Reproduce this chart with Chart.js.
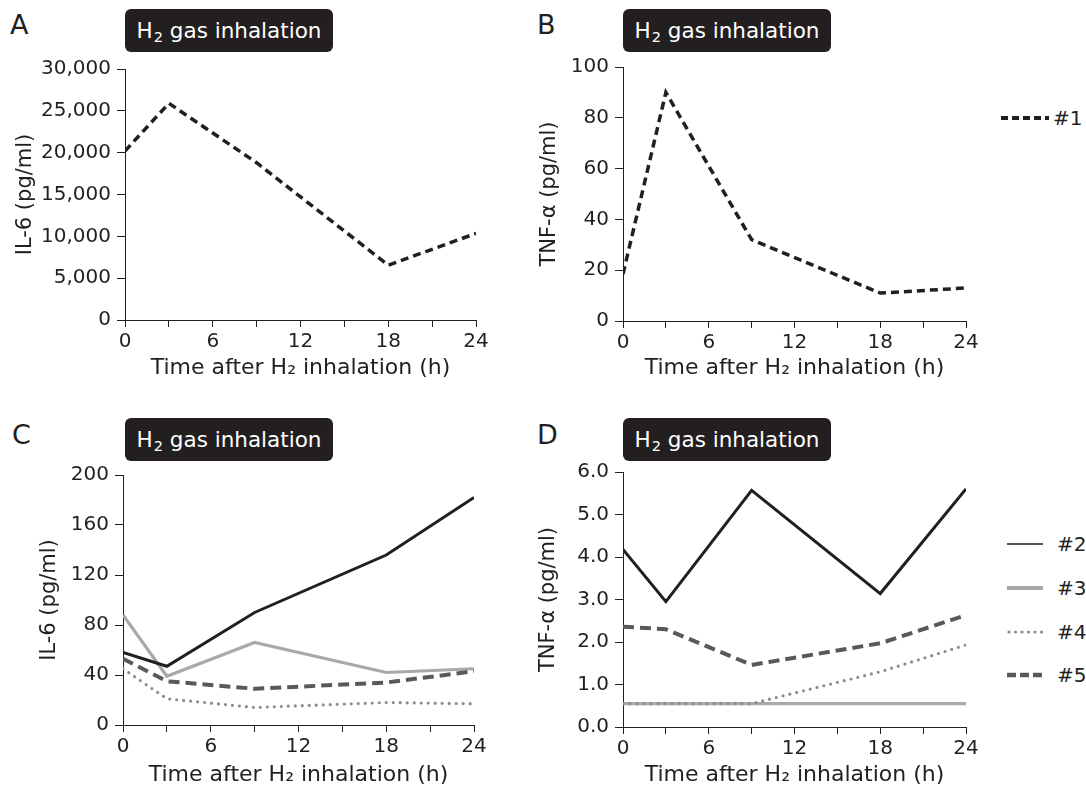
<!DOCTYPE html>
<html><head><meta charset="utf-8">
<script src="https://cdn.jsdelivr.net/npm/chart.js@4.4.1/dist/chart.umd.min.js"></script>
<style>
html,body{margin:0;padding:0;background:#fff;}
body{width:1086px;height:788px;position:relative;overflow:hidden;font-family:"DejaVu Sans",sans-serif;color:#231f20;}
canvas{position:absolute;}
.letter{position:absolute;font-size:27px;line-height:1;}
.tbox{position:absolute;width:208px;height:43px;background:#231f20;color:#fff;border-radius:6px;display:flex;align-items:center;justify-content:center;font-size:21.5px;}
.tbox .sub{font-size:0.68em;position:relative;top:0.3em;margin-left:1px;}
.legline{position:absolute;}
.legtext{position:absolute;font-size:20px;line-height:24px;}
</style></head>
<body>
<div class="letter" style="left:10px;top:11px">A</div>
<div class="letter" style="left:537px;top:11px">B</div>
<div class="letter" style="left:12px;top:421px">C</div>
<div class="letter" style="left:537px;top:421px">D</div>
<div class="tbox" style="left:125px;top:9px"><span>H<span class="sub">2</span> gas inhalation</span></div>
<div class="tbox" style="left:623px;top:9px"><span>H<span class="sub">2</span> gas inhalation</span></div>
<div class="tbox" style="left:125px;top:418px"><span>H<span class="sub">2</span> gas inhalation</span></div>
<div class="tbox" style="left:623px;top:418px"><span>H<span class="sub">2</span> gas inhalation</span></div>
<canvas id="cA" width="500" height="390" style="left:0;top:0"></canvas>
<canvas id="cB" width="500" height="390" style="left:500px;top:0"></canvas>
<canvas id="cC" width="500" height="388" style="left:0;top:400px"></canvas>
<canvas id="cD" width="500" height="388" style="left:500px;top:400px"></canvas>
<div id="legends"></div>
<script>
// ---- data ----
const hours = [0, 3, 9, 18, 24];
const xTickLabels = [0, 6, 12, 18, 24];
const seriesNames = ['#1', '#2', '#3', '#4', '#5'];
// Panel A: IL-6 (pg/ml), patient #1
const il6_p1 = [20200, 25900, 18800, 6550, 10350];
// Panel B: TNF-alpha (pg/ml), patient #1
const tnf_p1 = [18.5, 90, 32, 11, 13];
// Panel C: IL-6 (pg/ml), patients #2-#5
const il6_p2 = [58, 47, 90, 136, 182];
const il6_p3 = [88, 39, 66, 42, 45];
const il6_p4 = [45, 21, 14, 18, 17];
const il6_p5 = [53, 35, 29, 34, 43];
// Panel D: TNF-alpha (pg/ml), patients #2-#5
const tnf_p2 = [4.18, 2.95, 5.57, 3.14, 5.6];
const tnf_p3 = [0.55, 0.55, 0.55, 0.55, 0.55];
const tnf_p4 = [0.55, 0.55, 0.55, 1.3, 1.93];
const tnf_p5 = [2.36, 2.3, 1.46, 1.97, 2.63];
// y tick values
const yTicksA = [0, 5000, 10000, 15000, 20000, 25000, 30000];
const yTicksB = [0, 20, 40, 60, 80, 100];
const yTicksC = [0, 40, 80, 120, 160, 200];
const yTicksD = [0, 1, 2, 3, 4, 5, 6];

const INK = '#231f20';
const FONT = '"DejaVu Sans", Verdana, sans-serif';
const STYLES = {
  '#1': {color: INK, width: 3.5, dash: [8, 5], cap: 'butt'},
  '#2': {color: INK, width: 3, dash: [], cap: 'butt'},
  '#3': {color: '#a7a9ac', width: 3.2, dash: [], cap: 'butt'},
  '#4': {color: '#8a8c8f', width: 3.2, dash: [0, 7], cap: 'round'},
  '#5': {color: '#58595b', width: 4, dash: [11, 6], cap: 'butt'}
};
const ORDER = {'#1': 0, '#2': 0, '#4': 1, '#5': 2, '#3': 3};

function pts(ys) { return hours.map((h, i) => ({x: h, y: ys[i]})); }
function ds(name, ys) {
  const s = STYLES[name];
  return {label: name, data: pts(ys), borderColor: s.color, borderWidth: s.width,
    borderDash: s.dash, borderCapStyle: s.cap, borderJoinStyle: 'miter',
    pointRadius: 0, tension: 0, fill: false, order: ORDER[name]};
}

function axisCommon(tl) {
  return {
    grid: {drawOnChartArea: false, drawTicks: true, tickLength: tl, color: INK, lineWidth: 1},
    border: {display: true, color: INK, width: 1}
  };
}

function make(id, datasets, o) {
  new Chart(document.getElementById(id), {
    type: 'line',
    data: {datasets},
    options: {
      responsive: false, animation: false,
      layout: {padding: o.pad},
      plugins: {legend: {display: false}, tooltip: {enabled: false}},
      scales: {
        x: Object.assign(axisCommon(7), {
          type: 'linear', min: 0, max: 24,
          ticks: {stepSize: 3, autoSkip: false, maxRotation: 0, color: INK, padding: 3,
            font: {family: FONT, size: 20},
            callback: v => xTickLabels.includes(v) ? String(v) : ''},
          title: {display: true, text: 'Time after H₂ inhalation (h)', color: INK,
            font: {family: FONT, size: 22}, padding: 0},
          afterFit: s => { s.height = o.xh; }
        }),
        y: Object.assign(axisCommon(8), {
          type: 'linear', min: o.yt[0], max: o.yt[o.yt.length - 1],
          afterBuildTicks: s => { s.ticks = o.yt.map(v => ({value: v})); },
          ticks: {color: INK, padding: 6, font: {family: FONT, size: 20}, callback: o.fmt},
          title: {display: true, text: o.ytitle, color: INK, font: {family: FONT, size: 21}, padding: 0},
          afterFit: s => { s.width = o.yw; }
        })
      }
    }
  });
}

const fmtComma = v => Number(v).toLocaleString('en-US');
const fmtInt = v => String(v);
const fmt1 = v => Number(v).toFixed(1);

make('cA', [ds('#1', il6_p1)], {pad: {left: 13, top: 69, right: 24, bottom: 9}, xh: 61, yw: 112,
  yt: yTicksA, fmt: fmtComma, ytitle: 'IL-6 (pg/ml)'});
make('cB', [ds('#1', tnf_p1)], {pad: {left: 37, top: 67, right: 34, bottom: 9}, xh: 60, yw: 86,
  yt: yTicksB, fmt: fmtInt, ytitle: 'TNF-α (pg/ml)'});
make('cC', [ds('#2', il6_p2), ds('#3', il6_p3), ds('#4', il6_p4), ds('#5', il6_p5)],
  {pad: {left: 37, top: 75, right: 26, bottom: 0}, xh: 63, yw: 86,
  yt: yTicksC, fmt: fmtInt, ytitle: 'IL-6 (pg/ml)'});
make('cD', [ds('#2', tnf_p2), ds('#3', tnf_p3), ds('#4', tnf_p4), ds('#5', tnf_p5)],
  {pad: {left: 36, top: 72, right: 34, bottom: 0}, xh: 61, yw: 87,
  yt: yTicksD, fmt: fmt1, ytitle: 'TNF-α (pg/ml)'});

// ---- legends (HTML) ----
const legendSpec = [
  {name: seriesNames[0], x1: 1001, x2: 1049, y: 118, tx: 1053, w: 4, dash: '7 4'},
  {name: seriesNames[1], x1: 1007, x2: 1043, y: 544, tx: 1057, w: 1.3, dash: ''},
  {name: seriesNames[2], x1: 1007, x2: 1043, y: 588, tx: 1057, w: 4, dash: ''},
  {name: seriesNames[3], x1: 1007, x2: 1043, y: 632, tx: 1057, w: 3.2, dash: '0 6.5'},
  {name: seriesNames[4], x1: 1007, x2: 1043, y: 675, tx: 1057, w: 4.5, dash: '9 4'}
];
const host = document.getElementById('legends');
legendSpec.forEach(l => {
  const s = STYLES[l.name];
  const len = l.x2 - l.x1;
  const cap = l.name === '#4' ? 'round' : 'butt';
  const off = l.name === '#4' ? 2 : 0;
  host.insertAdjacentHTML('beforeend',
    `<svg class="legline" width="${len}" height="10" style="left:${l.x1}px;top:${l.y - 5}px">` +
    `<line x1="${off}" y1="5" x2="${len}" y2="5" stroke="${s.color}" stroke-width="${l.w}" stroke-linecap="${cap}"` +
    (l.dash ? ` stroke-dasharray="${l.dash}"` : '') + `/></svg>` +
    `<div class="legtext" style="left:${l.tx}px;top:${l.y - 12}px">${l.name}</div>`);
});
</script>
</body></html>
